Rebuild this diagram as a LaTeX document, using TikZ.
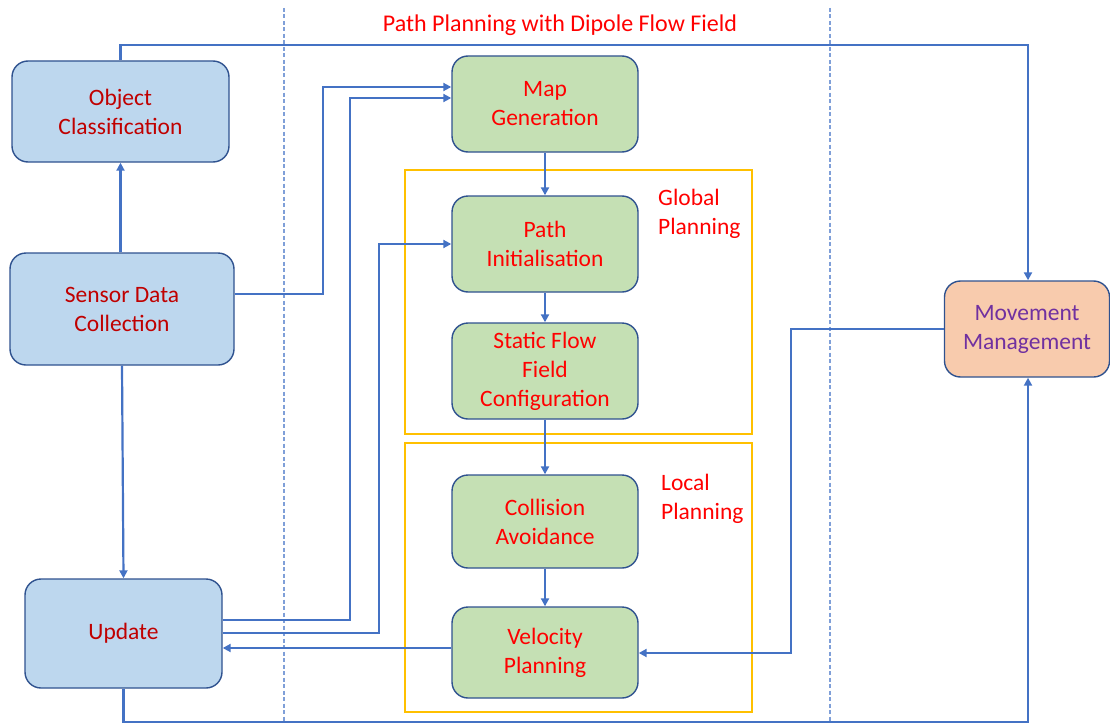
\documentclass[tikz,border=0pt]{standalone}
\usepackage{fontspec}
\setmainfont{Carlito}
\usetikzlibrary{arrows.meta}
\definecolor{lineblue}{HTML}{4472C4}
\definecolor{edgeblue}{HTML}{2F528F}
\definecolor{fillblue}{HTML}{BDD7EE}
\definecolor{fillgreen}{HTML}{C5E0B4}
\definecolor{fillorange}{HTML}{F8CBAD}
\definecolor{darkred}{HTML}{C00000}
\definecolor{brightred}{HTML}{FF0000}
\definecolor{purp}{HTML}{7030A0}
\definecolor{gold}{HTML}{FFC000}
\definecolor{dashblue}{HTML}{7F9FD8}
\tikzset{
  box/.style={draw=edgeblue, line width=1.4pt, rounded corners=16pt, align=center,
    inner sep=0pt, font=\fontsize{23.5}{29}\selectfont},
  bluebox/.style={box, fill=fillblue, text=darkred},
  greenbox/.style={box, fill=fillgreen, text=brightred, minimum width=186pt, minimum height=96pt},
  orangebox/.style={box, fill=fillorange, text=purp},
  conn/.style={draw=lineblue, line width=2.2pt, -{Triangle[length=8pt,width=8pt]}},
  groupbox/.style={draw=gold, line width=1.5pt},
  divider/.style={draw=dashblue, line width=1.2pt, dash pattern=on 4pt off 2.5pt},
  grouplabel/.style={text=brightred, align=left, anchor=north west, inner sep=0pt,
    font=\fontsize{23.5}{29}\selectfont}
}
\begin{document}
\begin{tikzpicture}[x=1pt,y=-1pt]
\useasboundingbox (0,0) rectangle (1110,725);
% dividers
\draw[divider] (284,8) -- (284,722);
\draw[divider] (830,8) -- (830,722);
% title
\node[text=brightred, font=\fontsize{24}{28}\selectfont] (title) at (560,25) {Path Planning with Dipole Flow Field};
% group boxes
\draw[groupbox] (405,170) rectangle (752,434);
\draw[groupbox] (405,443) rectangle (752,712);
\node[grouplabel] (glabel) at (658,189) {Global\\Planning};
\node[grouplabel] (llabel) at (661,474) {Local\\Planning};
% nodes
\node[bluebox, minimum width=217pt, minimum height=101pt] (obj) at (120.5,111.5) {Object\\Classification};
\node[bluebox, minimum width=224pt, minimum height=112pt] (sens) at (122,309) {Sensor Data\\Collection};
\node[bluebox, minimum width=197pt, minimum height=109pt] (upd) at (123.5,633.5) {Update};
\node[greenbox] (map) at (545,104) {Map\\Generation};
\node[greenbox] (path) at (545,244) {Path\\Initialisation};
\node[greenbox] (stat) at (545,371) {Static Flow\\Field\\Configuration};
\node[greenbox, minimum height=93pt] (coll) at (545,521.5) {Collision\\Avoidance};
\node[greenbox, minimum height=91pt] (vel) at (545,652.5) {Velocity\\Planning};
\node[orangebox, minimum width=165pt, minimum height=96pt] (mov) at (1027,329) {Movement\\Management};
% connectors
\draw[conn] (obj.north) |- (1028,45) -- (mov.north -| 1028,0);
\draw[conn] (sens.north -| obj.south) -- (obj.south);
\draw[conn] (sens.east |- 0,294) -| (323,87) -- (map.west |- 0,87);
\draw[conn] (upd.east |- 0,620) -| (350,98) -- (map.west |- 0,98);
\draw[conn] (upd.east |- 0,633) -| (379,244) -- (path.west);
\draw[conn] (vel.west |- 0,648) -- (upd.east |- 0,648);
\draw[conn] (mov.west) -| (791,653) -- (vel.east |- 0,653);
\draw[conn] (upd.south) |- (1028,722) -- (mov.south -| 1028,0);
\draw[conn] (sens.south) -- (upd.north);
\draw[conn] (map) -- (path);
\draw[conn] (path) -- (stat);
\draw[conn] (stat) -- (coll);
\draw[conn] (coll) -- (vel);
\end{tikzpicture}
\end{document}
